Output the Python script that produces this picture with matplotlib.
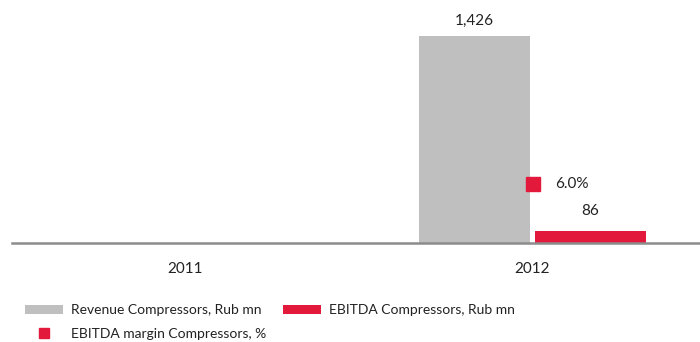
import numpy as np
import matplotlib.pyplot as plt
from matplotlib.lines import Line2D
from matplotlib.patches import Patch

plt.rcParams['font.family'] = ['Lato', 'DejaVu Sans']

years = ['2011', '2012']
revenue = [np.nan, 1426]
ebitda = [np.nan, 86]
margin = [np.nan, 6.0]

GRAY = '#BFBFBF'
RED = '#E2193A'
TXT = '#222222'
FS = 11
LEG_FS = 10

fig = plt.figure(figsize=(7, 3.42), dpi=100)
ax = fig.add_axes([12 / 700, 1 - 243 / 342, 694 / 700, 233 / 342])

x = np.arange(len(years))
w = 0.32
off = 0.167
ax.bar(x - off, revenue, width=w, color=GRAY)
ax.bar(x + off, ebitda, width=w, color=RED)
ax.set_xlim(-0.5, 1.5)
ax.set_ylim(0, 1426 * 233 / 207)

for xi, v in zip(x, revenue):
    if not np.isnan(v):
        ax.annotate(f'{v:,.0f}', (xi - off, v), xytext=(0, 6), textcoords='offset points',
                    ha='center', va='bottom', fontsize=FS, color=TXT)
for xi, v in zip(x, ebitda):
    if not np.isnan(v):
        ax.annotate(f'{v:,.0f}', (xi + off, v), xytext=(0, 9), textcoords='offset points',
                    ha='center', va='bottom', fontsize=FS, color=TXT)

ax2 = ax.twinx()
ax2.set_ylim(0, 6.0 * 233 / 59)
ax2.plot(x, margin, linestyle='none', marker='s', markersize=10, color=RED)
for xi, v in zip(x, margin):
    if not np.isnan(v):
        ax2.annotate(f'{v:.1f}%', (xi, v), xytext=(16, 0), textcoords='offset points',
                     ha='left', va='center', fontsize=FS, color=TXT)

for a in (ax, ax2):
    for s in ['top', 'right', 'left']:
        a.spines[s].set_visible(False)
    a.set_yticks([])
ax2.spines['bottom'].set_visible(False)
ax.spines['bottom'].set_color('#8C8C8C')
ax.spines['bottom'].set_linewidth(1.8)
ax.set_xticks(x)
ax.set_xticklabels(years, fontsize=FS, color=TXT)
ax.tick_params(axis='x', length=0, pad=14)

# one legend per entry so each can sit where the original puts it
leg_kw = dict(frameon=False, fontsize=LEG_FS, handlelength=2.75, handleheight=0.6,
              handletextpad=0.55, borderpad=0, labelcolor=TXT, borderaxespad=0)
fig.legend(handles=[Patch(facecolor=GRAY, label='Revenue Compressors, Rub mn')],
           loc='center left', bbox_to_anchor=(25 / 700, 1 - 310 / 342), **leg_kw)
fig.legend(handles=[Patch(facecolor=RED, label='EBITDA Compressors, Rub mn')],
           loc='center left', bbox_to_anchor=(283 / 700, 1 - 310 / 342), **leg_kw)
fig.legend(handles=[Line2D([], [], linestyle='none', marker='s', markersize=7.5, color=RED,
                           label='EBITDA margin Compressors, %')],
           loc='center left', bbox_to_anchor=(25 / 700, 1 - 334 / 342), **leg_kw)

fig.savefig('out.png', dpi=100)
